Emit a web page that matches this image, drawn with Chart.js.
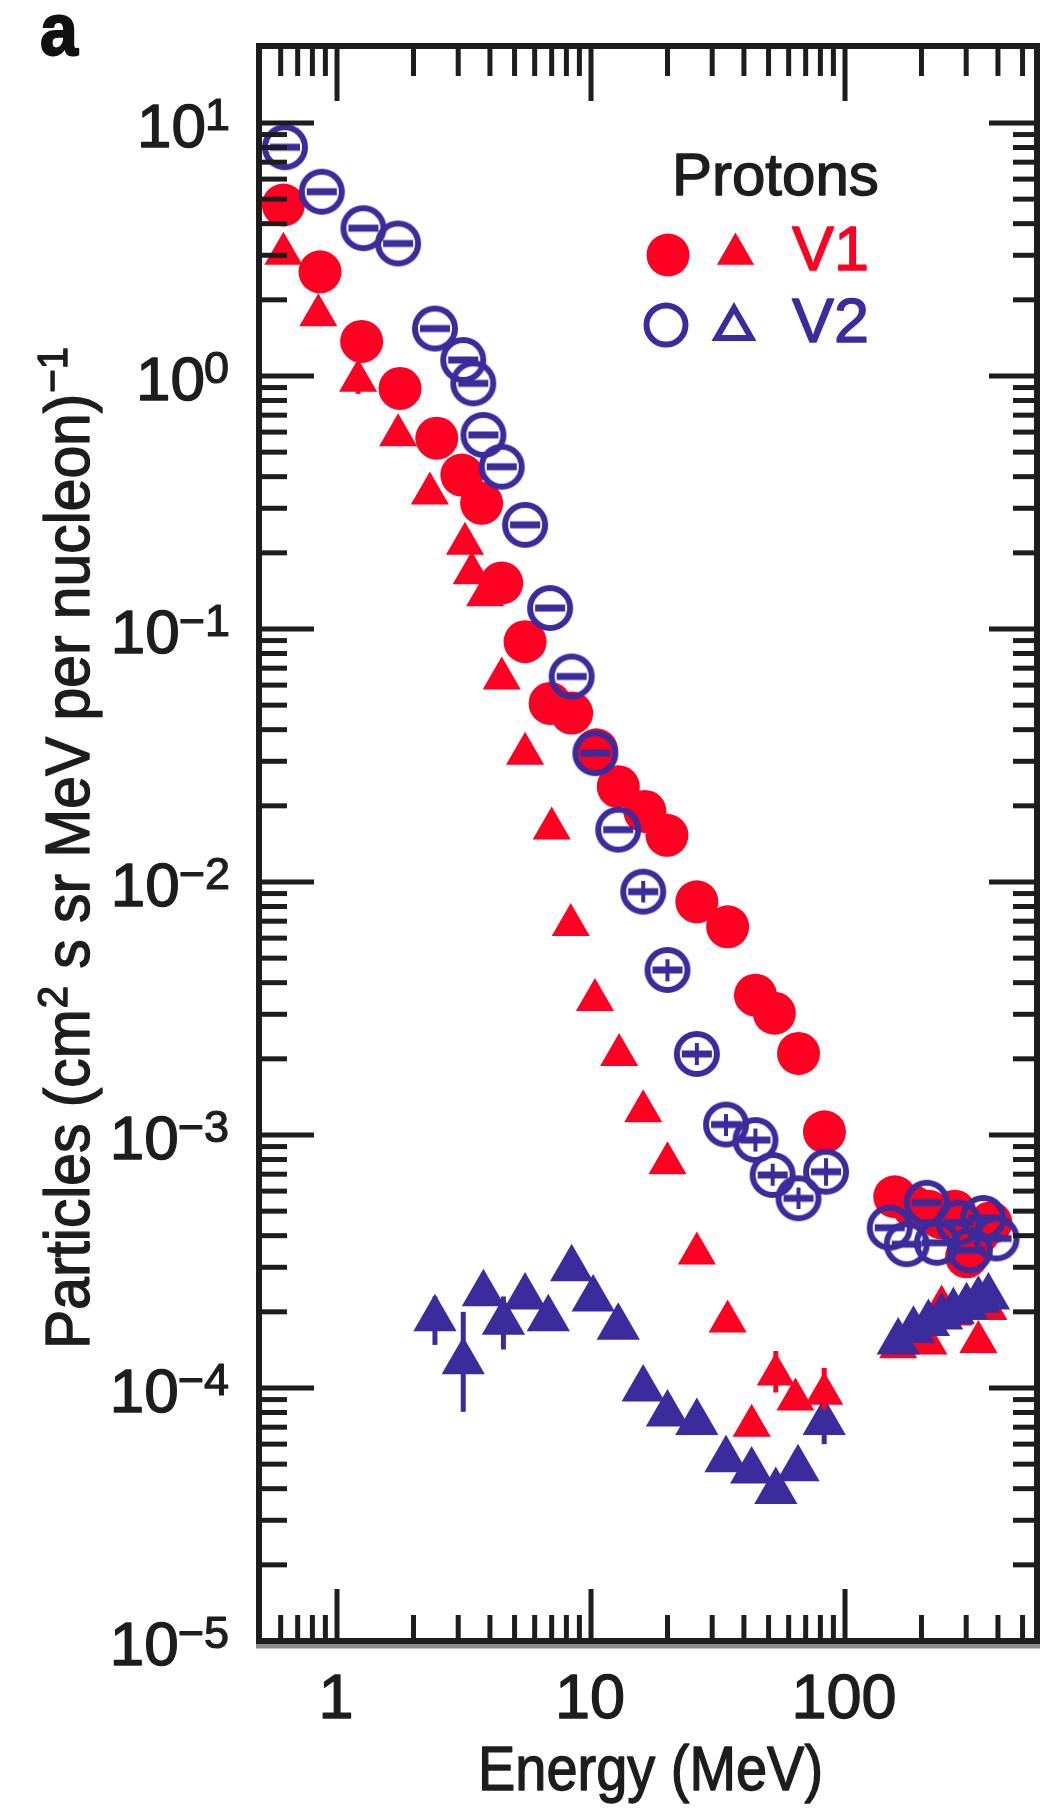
<!DOCTYPE html>
<html>
<head>
<meta charset="utf-8">
<title>Proton spectra V1 / V2</title>
<script src="https://cdn.jsdelivr.net/npm/chart.js@4/dist/chart.umd.min.js"></script>
<style>
  html, body { margin: 0; padding: 0; background: #ffffff; overflow: hidden; }
  #wrap { position: relative; width: 1041px; height: 1808px; overflow: hidden; }
  #chart { display: block; }
</style>
</head>
<body>
<div id="wrap"><canvas id="chart" width="1041" height="1808"></canvas></div>
<script>
// ---- Proton intensities, particles (cm^2 s sr MeV per nucleon)^-1 vs energy (MeV) ----
const v1CircleE = [0.615, 0.857, 1.25, 1.77, 2.47, 3.10, 3.71, 4.45, 5.50, 6.90, 8.39, 10.5, 12.8, 16.3, 19.9, 26.1, 34.5, 44.4, 52.7, 65.6, 83.0,
                   157, 186, 213, 240, 270, 301, 335, 375];
const v1CircleF = [4.74, 2.58, 1.37, 0.893, 0.568, 0.406, 0.314, 0.152, 0.0891, 0.0508, 0.0465, 0.0333, 0.0238, 0.0190, 0.0153, 0.00835, 0.00665, 0.00357, 0.00303, 0.00210, 0.00103,
                   5.7e-4, 5.2e-4, 5.0e-4, 4.7e-4, 5.0e-4, 3.3e-4, 4.1e-4, 4.5e-4];

const v1TriE = [0.615, 0.844, 1.21, 1.74, 2.32, 3.19, 3.39, 3.83, 4.45, 5.50, 7.00, 8.32, 10.36, 12.9, 16.05, 20.0, 26.1, 34.5, 42.9, 53.4, 63.8, 82.8,
                162, 186, 213, 240, 267, 301, 335, 367];
const v1TriF = [3.04, 1.74, 0.958, 0.583, 0.343, 0.217, 0.166, 0.136, 0.0637, 0.0321, 0.01626, 6.76e-3, 3.42e-3, 2.07e-3, 1.24e-3, 7.73e-4, 3.40e-4, 1.83e-4, 7.1e-5, 1.13e-4, 9.0e-5, 9.5e-5,
                1.45e-4, 1.55e-4, 1.50e-4, 2.1e-4, 1.95e-4, 2.15e-4, 1.52e-4, 2.05e-4];

const v2CircleE = [0.624, 0.871, 1.27, 1.74, 2.43, 3.14, 3.44, 3.77, 4.45, 5.50, 6.90, 8.39, 10.4, 12.8, 16.05, 20.0, 26.1, 34.0, 44.4, 51.9, 65.6, 84.2,
                   150, 175, 210, 230, 280, 310, 350, 395];
const v2CircleF = [8.02, 5.35, 3.84, 3.34, 1.54, 1.157, 0.935, 0.585, 0.438, 0.258, 0.121, 0.0649, 0.0323, 0.0161, 9.16e-3, 4.49e-3, 2.09e-3, 1.10e-3, 9.55e-4, 6.95e-4, 5.62e-4, 7.16e-4,
                   4.3e-4, 3.7e-4, 5.4e-4, 3.75e-4, 4.5e-4, 3.5e-4, 4.7e-4, 3.9e-4];

const v2TriE = [2.43, 3.14, 3.77, 4.52, 5.50, 6.79, 8.39, 10.2, 12.8, 16.05, 20.0, 26.1, 34.0, 42.9, 53.4, 65.3, 82.8,
                162, 186, 213, 240, 267, 301, 335, 367];
const v2TriF = [1.88e-4, 1.27e-4, 2.36e-4, 1.82e-4, 2.29e-4, 1.88e-4, 2.96e-4, 2.25e-4, 1.74e-4, 9.9e-5, 7.9e-5, 7.3e-5, 5.2e-5, 4.7e-5, 3.9e-5, 4.8e-5, 7.3e-5,
                1.52e-4, 1.69e-4, 1.80e-4, 1.91e-4, 2.00e-4, 2.09e-4, 2.22e-4, 2.29e-4];

// Vertical uncertainty bars: [energy, low, high]
const v1TriBars = [[1.21, 0.85, 1.10], [53.4, 9.6e-5, 1.4e-4], [82.8, 8.2e-5, 1.2e-4]];
const v2TriBars = [[2.43, 1.48e-4, 2.3e-4], [3.14, 8.05e-5, 2.0e-4], [4.52, 1.42e-4, 2.3e-4], [82.8, 6.0e-5, 9.0e-5]];
const v2CircleBars = [[16.05, 8.3e-3, 1.01e-2], [20.0, 4.05e-3, 4.95e-3], [26.1, 1.89e-3, 2.31e-3], [34.0, 0.99e-3, 1.21e-3],
                      [44.4, 8.6e-4, 1.06e-3], [51.9, 6.3e-4, 7.7e-4], [65.6, 5.1e-4, 6.2e-4], [84.2, 6.3e-4, 8.1e-4]];

// Axis ranges and ticks
const xRange = [0.493, 570];
const yRange = [1e-5, 20.15];
const xMajor = [1, 10, 100];
const xMinor = [0.6, 0.7, 0.8, 0.9, 2, 3, 4, 5, 6, 7, 8, 9, 20, 30, 40, 50, 60, 70, 80, 90, 200, 300, 400, 500];
const xTickLabels = ['1', '10', '100'];
const yExponents = [1, 0, -1, -2, -3, -4, -5];
const yMinorFactors = [2, 3, 4, 5, 6, 7, 8, 9];

const RED = '#ff0022';
const BLUE = '#3a2c9c';
const INK = '#1d1d1d';
const FONT = '"Liberation Sans", Arial, Helvetica, sans-serif';

const pts = (xs, ys) => xs.map((v, i) => ({ x: v, y: ys[i] }));

// Open ring with an inner energy-bin bar, used as the V2 circle marker
function ringMarker() {
  const c = document.createElement('canvas');
  c.width = 54; c.height = 54;
  const g = c.getContext('2d');
  g.strokeStyle = BLUE;
  g.lineWidth = 6;
  g.beginPath(); g.arc(27, 27, 20, 0, Math.PI * 2); g.stroke();
  g.lineWidth = 7;
  g.beginPath(); g.moveTo(12, 27); g.lineTo(42, 27); g.stroke();
  return c;
}

// Text with a slight outline so the strokes read as heavy as the printed figure
function heavyText(ctx, t, x, y, w) {
  ctx.lineWidth = w;
  ctx.strokeStyle = ctx.fillStyle;
  ctx.lineJoin = 'round';
  ctx.strokeText(t, x, y);
  ctx.fillText(t, x, y);
}

const barsByDataset = [v2TriBars, v2CircleBars, v1TriBars, null];
const barColors = [BLUE, BLUE, RED, RED];

const framePlugin = {
  id: 'frame',
  afterDatasetsDraw(chart) {
    const { ctx, chartArea: a, scales: { x, y } } = chart;
    ctx.save();

    // uncertainty bars
    barsByDataset.forEach((list, k) => {
      if (!list) return;
      ctx.strokeStyle = barColors[k];
      ctx.lineWidth = k === 1 ? 4 : 5;
      list.forEach(([e, lo, hi]) => {
        const px = x.getPixelForValue(e);
        ctx.beginPath();
        ctx.moveTo(px, y.getPixelForValue(lo));
        ctx.lineTo(px, y.getPixelForValue(hi));
        ctx.stroke();
      });
    });

    // inward ticks on all four sides
    ctx.strokeStyle = INK;
    ctx.lineCap = 'butt';
    const seg = (x1, y1, x2, y2) => { ctx.beginPath(); ctx.moveTo(x1, y1); ctx.lineTo(x2, y2); ctx.stroke(); };
    ctx.lineWidth = 5;
    xMajor.forEach(v => {
      const px = x.getPixelForValue(v);
      seg(px, a.bottom, px, a.bottom - 52);
      seg(px, a.top, px, a.top + 55);
    });
    xMinor.forEach(v => {
      const px = x.getPixelForValue(v);
      seg(px, a.bottom, px, a.bottom - 26);
      seg(px, a.top, px, a.top + 30);
    });
    yExponents.forEach(e => {
      const py = y.getPixelForValue(Math.pow(10, e));
      if (py > a.top + 4 && py < a.bottom - 4) {
        seg(a.left, py, a.left + 55, py);
        seg(a.right, py, a.right - 48, py);
      }
      yMinorFactors.forEach(f => {
        const v = f * Math.pow(10, e);
        if (v >= yRange[1]) return;
        const q = y.getPixelForValue(v);
        if (q < a.top + 6 || q > a.bottom - 6) return;
        seg(a.left, q, a.left + 28, q);
        seg(a.right, q, a.right - 24, q);
      });
    });

    // frame
    ctx.strokeStyle = '#8c8c8c';
    ctx.lineWidth = 5;
    seg(a.left - 3, a.bottom + 5, a.right + 3, a.bottom + 5);
    ctx.strokeStyle = INK;
    ctx.lineWidth = 6;
    ctx.strokeRect(a.left, a.top, a.right - a.left, a.bottom - a.top);

    // y tick labels 10^n
    ctx.fillStyle = INK;
    ctx.textBaseline = 'alphabetic';
    ctx.textAlign = 'left';
    const inkRight = a.left - 31;
    yExponents.forEach(e => {
      const py = y.getPixelForValue(Math.pow(10, e));
      const sup = e < 0 ? '\u2212' + (-e) : String(e);
      ctx.font = '45px ' + FONT;
      const ms = ctx.measureText(sup);
      const supX = inkRight - ms.actualBoundingBoxRight;
      heavyText(ctx, sup, supX, py + 7, 1.2);
      ctx.font = '62px ' + FONT;
      const mb = ctx.measureText('10');
      heavyText(ctx, '10', supX - mb.width + 1, py + 24, 1.4);
    });

    // x tick labels
    ctx.font = '63px ' + FONT;
    ctx.textAlign = 'center';
    xMajor.forEach((v, i) => {
      heavyText(ctx, xTickLabels[i], x.getPixelForValue(v) - 1, a.bottom + 77, 1.4);
    });

    // axis titles (narrow Helvetica look: fit to measured length)
    ctx.textAlign = 'left';
    ctx.font = '63px ' + FONT;
    const xt = 'Energy (MeV)';
    const xw = ctx.measureText(xt).width;
    ctx.save();
    ctx.translate(650.5 - 345 / 2, a.bottom + 149);
    ctx.scale(345 / xw, 1);
    heavyText(ctx, xt, 0, 0, 1.4);
    ctx.restore();

    const runs = [['Particles (cm', false], ['2', true], [' s sr MeV per nucleon)', false], ['\u22121', true]];
    const big = '63px ' + FONT, small = '43px ' + FONT;
    let tw = 0;
    runs.forEach(([t, s]) => { ctx.font = s ? small : big; tw += ctx.measureText(t).width + (s ? 2 : 0); });
    const yLen = 1003;
    ctx.save();
    ctx.translate(89, 847.5);
    ctx.rotate(-Math.PI / 2);
    ctx.scale(yLen / tw, 1);
    let cx = -tw / 2;
    runs.forEach(([t, s]) => {
      ctx.font = s ? small : big;
      heavyText(ctx, t, cx + (s ? 1 : 0), s ? -22 : 0, 1.4);
      cx += ctx.measureText(t).width + (s ? 2 : 0);
    });
    ctx.restore();

    // panel letter
    ctx.font = 'bold 74px ' + FONT;
    ctx.fillStyle = '#111';
    ctx.save();
    ctx.translate(40, 55);
    ctx.scale(0.92, 1);
    heavyText(ctx, 'a', 0, 0, 2);
    ctx.restore();

    // key
    ctx.fillStyle = INK;
    ctx.font = '60px ' + FONT;
    heavyText(ctx, 'Protons', 672, 195, 1.4);
    ctx.fillStyle = RED;
    ctx.beginPath(); ctx.arc(668, 255, 21.5, 0, Math.PI * 2); ctx.fill();
    const tri = (cx0, cy0, r) => {
      ctx.beginPath();
      for (let k = 0; k < 3; k++) {
        const ang = k * 2 * Math.PI / 3;
        const px = cx0 + Math.sin(ang) * r, py = cy0 - Math.cos(ang) * r;
        k ? ctx.lineTo(px, py) : ctx.moveTo(px, py);
      }
      ctx.closePath();
    };
    tri(735.5, 254, 21.5); ctx.fill();
    ctx.font = '63px ' + FONT;
    heavyText(ctx, 'V1', 792, 270, 1.4);
    ctx.strokeStyle = BLUE;
    ctx.lineWidth = 6;
    ctx.beginPath(); ctx.arc(666, 325, 19.5, 0, Math.PI * 2); ctx.stroke();
    ctx.lineJoin = 'miter';
    tri(734, 328, 20); ctx.stroke();
    ctx.fillStyle = BLUE;
    heavyText(ctx, 'V2', 792, 342, 1.4);

    ctx.restore();
  }
};

new Chart(document.getElementById('chart'), {
  type: 'scatter',
  data: {
    datasets: [
      { label: 'V2 triangles', data: pts(v2TriE, v2TriF), pointStyle: 'triangle', pointRadius: 21,
        backgroundColor: BLUE, borderColor: BLUE, borderWidth: 4, clip: false },
      { label: 'V2 circles', data: pts(v2CircleE, v2CircleF), pointStyle: ringMarker(), pointRadius: 23,
        backgroundColor: 'rgba(0,0,0,0)', borderColor: BLUE, borderWidth: 0, clip: false },
      { label: 'V1 triangles', data: pts(v1TriE, v1TriF), pointStyle: 'triangle', pointRadius: 22,
        backgroundColor: RED, borderColor: RED, borderWidth: 0, clip: false },
      { label: 'V1 circles', data: pts(v1CircleE, v1CircleF), pointStyle: 'circle', pointRadius: 21.5,
        backgroundColor: RED, borderColor: RED, borderWidth: 0, clip: false }
    ]
  },
  options: {
    responsive: false,
    animation: false,
    devicePixelRatio: 1,
    events: [],
    layout: { autoPadding: false, padding: { left: 259, right: 4, top: 46, bottom: 167 } },
    plugins: { legend: { display: false }, tooltip: { enabled: false } },
    scales: {
      x: { type: 'logarithmic', min: xRange[0], max: xRange[1], display: false },
      y: { type: 'logarithmic', min: yRange[0], max: yRange[1], display: false }
    }
  },
  plugins: [framePlugin]
});
</script>
</body>
</html>
